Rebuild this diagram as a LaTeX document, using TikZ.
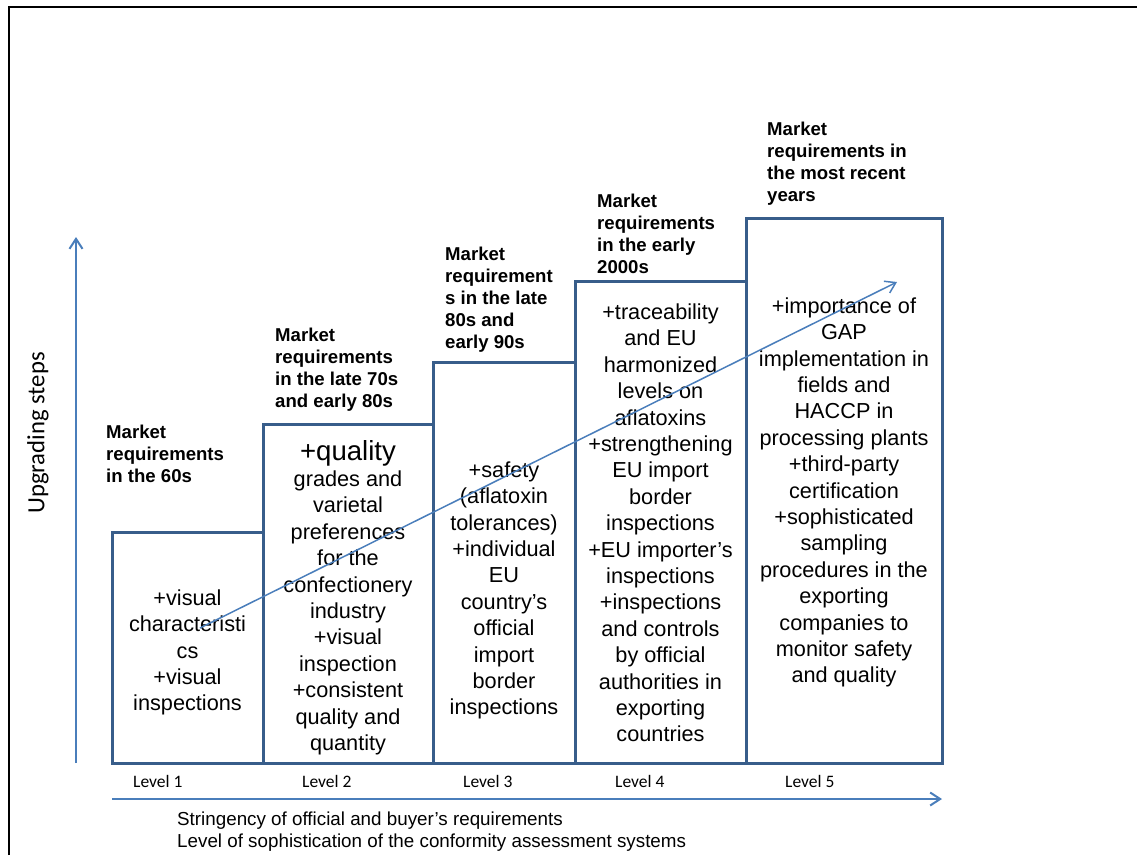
\documentclass[tikz,border=0pt]{standalone}
\usepackage{fontspec}
\setmainfont{Liberation Sans}
\newfontfamily\calibri{Carlito}
\usetikzlibrary{arrows.meta}
\definecolor{boxblue}{RGB}{56,93,138}
\definecolor{arrowblue}{RGB}{74,126,187}

\begin{document}
\begin{tikzpicture}[x=1pt,y=-1pt,
  stagebox/.style={draw=boxblue, line width=3pt, inner sep=0pt},
  stagetext/.style={inner sep=0pt, align=center,
    font=\fontsize{21.7}{26.4}\selectfont},
  header/.style={anchor=base west, inner sep=0pt, align=left,
    font=\fontsize{18.6}{22}\selectfont\bfseries},
  levellabel/.style={anchor=base west, inner sep=0pt,
    font=\calibri\fontsize{17.5}{21}\selectfont},
  axisarrow/.style={draw=arrowblue, line width=2pt,
    -{Straight Barb[length=10pt,width=13pt,line width=2pt]}},
  trendarrow/.style={draw=arrowblue, line width=1.5pt,
    -{Straight Barb[length=10pt,width=13pt,line width=1.5pt]}}
]
\useasboundingbox (0,0) rectangle (1137,855);

% outer frame
\draw[line width=2.3pt] (8.8,855) -- (8.8,6.8) -- (1137,6.8);

% axes
\coordinate (yfoot) at (76,763);
\coordinate (ytip) at (76,237);
\coordinate (xfoot) at (112,799);
\coordinate (xtip) at (942,799);
\draw[axisarrow] (yfoot) -- (ytip);
\draw[axisarrow] (xfoot) -- (xtip);

\node[rotate=90, inner sep=0pt, font=\calibri\fontsize{24.7}{28}\selectfont]
  (ylabel) at (38,433) {Upgrading steps};

% stage boxes
\node[stagebox, minimum width=151pt, minimum height=231pt] (b1) at (187.5,647.5) {};
\node[stagebox, minimum width=170pt, minimum height=339pt] (b2) at (348,593.5) {};
\node[stagebox, minimum width=142pt, minimum height=401pt] (b3) at (504,562.5) {};
\node[stagebox, minimum width=171pt, minimum height=482pt] (b4) at (660.5,522) {};
\node[stagebox, minimum width=196pt, minimum height=545pt] (b5) at (844,490.5) {};

% stage contents
\node[stagetext, yshift=-5pt] (t1) at (b1.center)
  {+visual\\characteristi\\cs\\+visual\\inspections};
\node[stagetext, yshift=-4pt] (t2) at (b2.center)
  {{\fontsize{27.6}{30}\selectfont +quality}\\grades and\\varietal\\preferences\\for the\\confectionery\\industry\\+visual\\inspection\\+consistent\\quality and\\quantity};
\node[stagetext, yshift=-28pt] (t3) at (b3.center)
  {+safety\\(aflatoxin\\tolerances)\\+individual\\EU\\country’s\\official\\import\\border\\inspections};
\node[stagetext, yshift=-1pt] (t4) at (b4.center)
  {+traceability\\and EU\\harmonized\\levels on\\aflatoxins\\+strengthening\\EU import\\border\\inspections\\+EU importer’s\\inspections\\+inspections\\and controls\\by official\\authorities in\\exporting\\countries};
\node[stagetext, yshift=-2pt] (t5) at (b5.center)
  {+importance of\\GAP\\implementation in\\fields and\\HACCP in\\processing plants\\+third-party\\certification\\+sophisticated\\sampling\\procedures in the\\exporting\\companies to\\monitor safety\\and quality};

% stage headings (anchored at the baseline of their last line)
\node[header] (h1) at (106,482) {Market\\requirements\\in the 60s};
\node[header] (h2) at (275,407) {Market\\requirements\\in the late 70s\\and early 80s};
\node[header] (h3) at (445,348) {Market\\requirement\\s in the late\\80s and\\early 90s};
\node[header] (h4) at (597,273) {Market\\requirements\\in the early\\2000s};
\node[header] (h5) at (767,201) {Market\\requirements in\\the most recent\\years};

% level labels
\node[levellabel] (l1) at (133,787) {Level 1};
\node[levellabel] (l2) at (302,787) {Level 2};
\node[levellabel] (l3) at (463,787) {Level 3};
\node[levellabel] (l4) at (615,787) {Level 4};
\node[levellabel] (l5) at (785,787) {Level 5};

% x axis caption
\node[anchor=base west, inner sep=0pt, align=left,
  font=\fontsize{18.8}{22}\selectfont] (xlabel) at (177,847)
  {Stringency of official and buyer’s requirements\\Level of sophistication of the conformity assessment systems};

% upward trend across the stages
\coordinate (trendfoot) at (200,628);
\coordinate (trendtip) at (897,282);
\draw[trendarrow] (trendfoot) -- (trendtip);

\end{tikzpicture}
\end{document}
